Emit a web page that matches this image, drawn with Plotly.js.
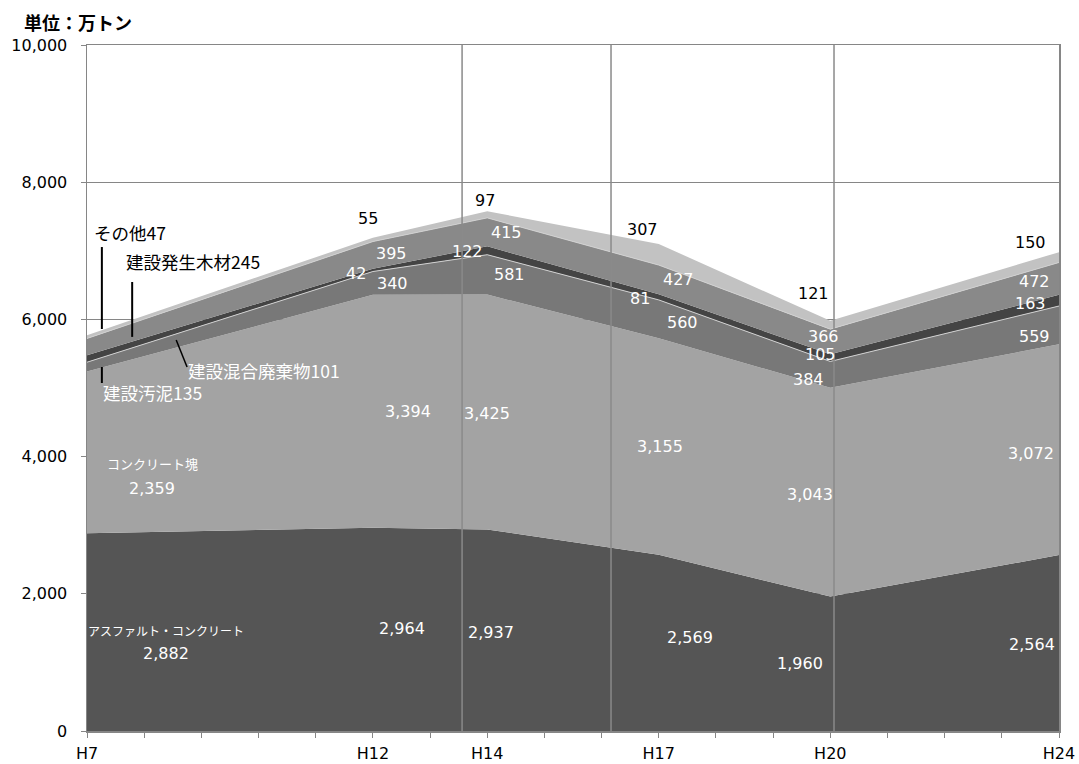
<!DOCTYPE html>
<html>
<head>
<meta charset="utf-8">
<script src="https://cdn.plot.ly/plotly-3.0.1.min.js"></script>
<style>html,body{margin:0;padding:0;background:#fff;}#chart{width:1079px;height:764px;}</style>
</head>
<body>
<div id="chart"></div>
<script>
// ---- data ----
const years = [7, 12, 14, 17, 20, 24];
const yearLabels = ['H7', 'H12', 'H14', 'H17', 'H20', 'H24'];
const seriesNames = ['アスファルト・コンクリート', 'コンクリート塊', '建設汚泥', '建設混合廃棄物', '建設発生木材', 'その他'];
const asphalt  = [2882, 2964, 2937, 2569, 1960, 2564];
const concrete = [2359, 3394, 3425, 3155, 3043, 3072];
const sludge   = [135, 340, 581, 560, 384, 559];
const mixed    = [101, 42, 122, 81, 105, 163];
const wood     = [245, 395, 415, 427, 366, 472];
const other    = [47, 55, 97, 307, 121, 150];
const yTicks = [0, 2000, 4000, 6000, 8000, 10000];

// ---- styles ----
const series = [asphalt, concrete, sludge, mixed, wood, other];
const fills = ['#555555', '#a3a3a3', '#787878', '#444444', '#898989', '#c2c2c2'];
const edgeColor = ['#555555', '#a3a3a3', '#d0d0d0', '#444444', '#d0d0d0', '#c2c2c2'];
const edgeWidth = [0, 0, 1, 0, 1, 0];
const labelColor = ['#ffffff', '#ffffff', '#ffffff', '#ffffff', '#ffffff', '#000000'];
// pixel offsets [dx, dy(down)] of value labels from band middle (top for the last series)
const offsets = [
  [[79, 21], [29, -1], [4, 2], [31, -5], [-30, 0], [-27, 1]],
  [[65, 36], [35, 0], [0, 1], [1, 0], [-20, 2], [-28, 4]],
  [null, [20, 0], [22, 0], [24, 3], [-22, 5], [-25, 11]],
  [null, [-17, 3], [-20, 1], [-19, 1], [-10, -3], [-29, 3]],
  [null, [19, -2], [19, 0], [20, 0], [-7, -5], [-25, 3]],
  [null, [-5, -19], [-2, -11], [-16, -15], [-17, -27], [-29, -10]]
];
// name labels (first two series) and callouts (others) at the first year
const nameOffsets = [[79, -2], [65, 11], null, null, null, null];
const calloutOffsets = [null, null, [14, 26], [99, 12], [37, -85], [5, -103]];
const calloutColor = [null, null, '#ffffff', '#ffffff', '#000000', '#000000'];

const numFont = 'DejaVu Sans, Verdana, sans-serif';
const jpFont = 'Noto Sans CJK JP, sans-serif';
const fmt = v => v.toLocaleString('en-US');

// ---- traces ----
const traces = series.map((vals, i) => ({
  type: 'scatter',
  x: years,
  y: vals,
  name: seriesNames[i],
  stackgroup: 'one',
  mode: 'lines',
  fillcolor: fills[i],
  line: {color: edgeColor[i], width: edgeWidth[i], shape: 'linear'},
  hoverinfo: 'skip'
}));

// ---- labels ----
const annotations = [];
const cum = years.map(() => 0);
series.forEach((vals, i) => {
  vals.forEach((v, j) => {
    const bottom = cum[j];
    const mid = bottom + v / 2;
    const top = bottom + v;
    const anchorY = (i === series.length - 1) ? top : mid;
    const off = offsets[i][j];
    if (off) {
      annotations.push({
        x: years[j], y: anchorY, xref: 'x', yref: 'y', showarrow: false,
        text: fmt(v), xshift: off[0], yshift: -off[1],
        font: {family: numFont, size: 16, color: labelColor[i]}
      });
    }
    if (j === 0 && nameOffsets[i]) {
      annotations.push({
        x: years[j], y: anchorY, xref: 'x', yref: 'y', showarrow: false,
        text: seriesNames[i], xshift: nameOffsets[i][0], yshift: -nameOffsets[i][1],
        font: {family: jpFont, size: i === 0 ? 12 : 13, color: '#ffffff'}
      });
    }
    if (j === 0 && calloutOffsets[i]) {
      annotations.push({
        x: years[j], y: anchorY, xref: 'x', yref: 'y', showarrow: false,
        xanchor: 'left',
        text: seriesNames[i] + v, xshift: calloutOffsets[i][0], yshift: -calloutOffsets[i][1],
        font: {family: jpFont, size: 17.5, color: calloutColor[i]}
      });
    }
  });
  vals.forEach((v, j) => { cum[j] += v; });
});

annotations.push({
  xref: 'paper', yref: 'paper', x: -0.067, y: 1.0335, xanchor: 'left', yanchor: 'middle',
  showarrow: false, text: '<b>単位：万トン</b>',
  font: {family: jpFont, size: 18, color: '#000000'}
});

// ---- decorations: leader lines and separators ----
const shapes = [
  {type: 'line', xref: 'x', yref: 'y', x0: 7.26, x1: 7.26, y0: 7055, y1: 5860, line: {color: '#000', width: 2}, layer: 'above'},
  {type: 'line', xref: 'x', yref: 'y', x0: 7.79, x1: 7.79, y0: 6545, y1: 5745, line: {color: '#000', width: 2}, layer: 'above'},
  {type: 'line', xref: 'x', yref: 'y', x0: 8.56, x1: 8.75, y0: 5700, y1: 5306, line: {color: '#000', width: 1.5}, layer: 'above'},
  {type: 'line', xref: 'x', yref: 'y', x0: 7.26, x1: 7.26, y0: 5306, y1: 5073, line: {color: '#000', width: 2}, layer: 'above'}
];
[13.56, 16.165, 20.065].forEach(xv => shapes.push({
  type: 'line', xref: 'x', yref: 'paper', x0: xv, x1: xv, y0: 0, y1: 1,
  line: {color: '#8a8a8a', width: 1.5}, layer: 'above'
}));

// x ticks: every year, labels only on data years
const allYears = [];
for (let y = years[0]; y <= years[years.length - 1]; y++) allYears.push(y);
const tickText = allYears.map(y => { const k = years.indexOf(y); return k >= 0 ? yearLabels[k] : ''; });

const layout = {
  width: 1079, height: 764,
  margin: {l: 87, r: 20, t: 45, b: 33, pad: 0},
  paper_bgcolor: '#ffffff', plot_bgcolor: '#ffffff',
  showlegend: false,
  font: {family: numFont, size: 16, color: '#000'},
  xaxis: {
    range: [years[0], years[years.length - 1]],
    tickvals: allYears, ticktext: tickText,
    ticks: 'outside', ticklen: 5, tickcolor: '#868686', tickwidth: 1,
    ticklabelstandoff: 2,
    showgrid: false, zeroline: false,
    showline: true, linecolor: '#868686', linewidth: 1.5, mirror: true,
    tickfont: {family: numFont, size: 16, color: '#000'}
  },
  yaxis: {
    range: [0, 10000], tickvals: yTicks, tickformat: ',',
    ticks: 'outside', ticklen: 5, tickcolor: '#868686',
    ticklabelstandoff: 10,
    showgrid: true, gridcolor: '#868686', gridwidth: 1,
    zeroline: false, showline: true, linecolor: '#868686', linewidth: 1.5, mirror: true,
    tickfont: {family: numFont, size: 16, color: '#000'}
  },
  annotations: annotations,
  shapes: shapes
};

Plotly.newPlot('chart', traces, layout, {displayModeBar: false, staticPlot: true});
</script>
</body>
</html>
